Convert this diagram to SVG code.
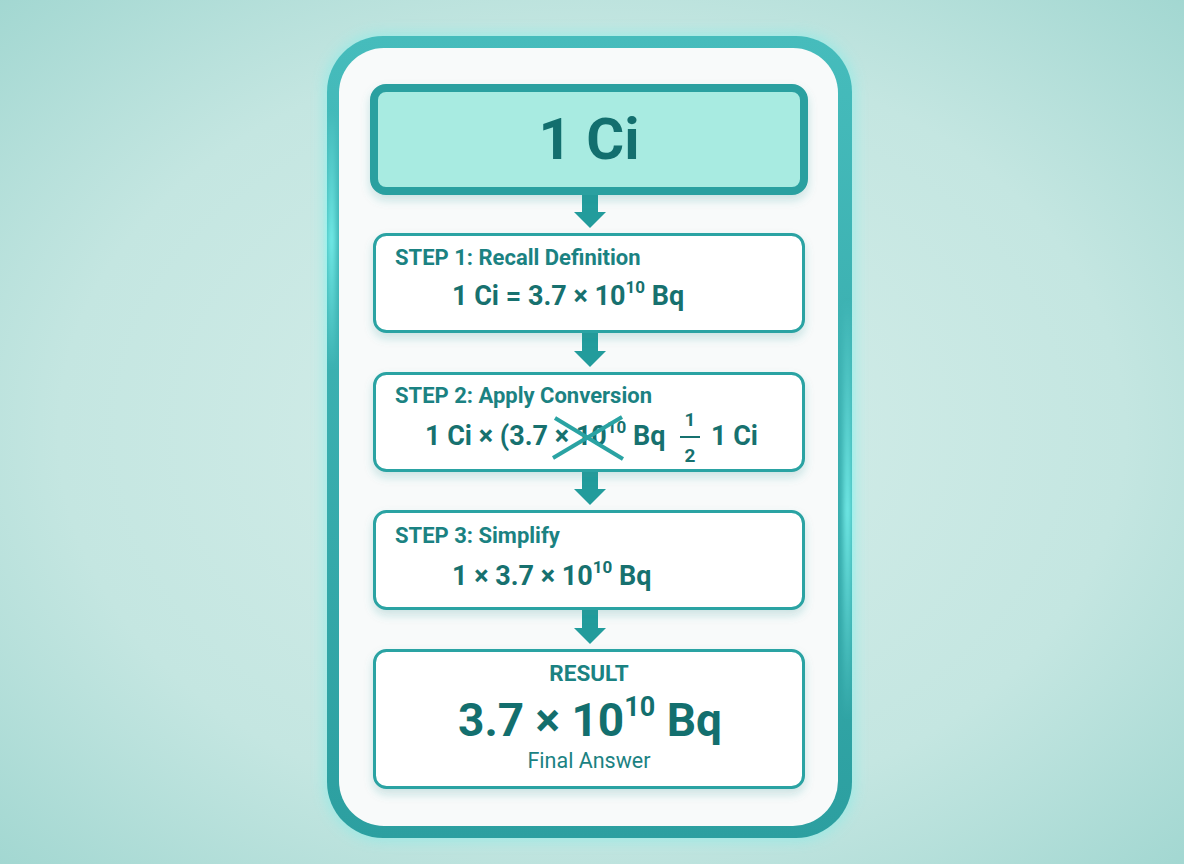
<svg xmlns="http://www.w3.org/2000/svg" width="1184" height="864" viewBox="0 0 1184 864">
<defs>
<radialGradient id="bg" cx="0.5" cy="0.5" r="0.75">
<stop offset="0" stop-color="#d6eeea"/>
<stop offset="0.6" stop-color="#c4e6e1"/>
<stop offset="1" stop-color="#9dd5cf"/>
</radialGradient>
<linearGradient id="frameG" x1="0" y1="0" x2="0" y2="1">
<stop offset="0" stop-color="#46bcbc"/>
<stop offset="1" stop-color="#2c9fa0"/>
</linearGradient>
<linearGradient id="glowL" x1="0" y1="0" x2="0" y2="1">
<stop offset="0" stop-color="#7ff8f4" stop-opacity="0"/>
<stop offset="0.5" stop-color="#7ff8f4" stop-opacity="1"/>
<stop offset="1" stop-color="#7ff8f4" stop-opacity="0"/>
</linearGradient>
<filter id="glow" x="-20%" y="-10%" width="140%" height="120%">
<feGaussianBlur stdDeviation="8"/>
</filter>
<filter id="blur3" x="-200%" y="-20%" width="500%" height="140%">
<feGaussianBlur stdDeviation="3"/>
</filter>
<filter id="sh" x="-10%" y="-20%" width="120%" height="150%">
<feDropShadow dx="0" dy="5" stdDeviation="5" flood-color="#2a8f8c" flood-opacity="0.22"/>
</filter>
<style>
.box{fill:#ffffff;stroke:#2aa3a3;stroke-width:3}
.title{font-family:Roboto,"Liberation Sans",sans-serif;font-weight:700;font-size:22px;fill:#1b8282}
.f{font-family:Roboto,"Liberation Sans",sans-serif;font-weight:700;font-size:27px;fill:#17716f}
.sup{font-size:17px}
.shaft{fill:#229c9c}
.head{fill:#229c9c}
</style>
</defs>
<rect width="1184" height="864" fill="url(#bg)"/>
<g id="frame">
<rect x="333" y="42" width="513" height="790" rx="50" fill="none" stroke="#6ef2ee" stroke-width="10" filter="url(#glow)" opacity="0.8"/>
<rect x="327" y="36" width="525" height="802" rx="56" fill="url(#frameG)"/>
<rect x="328" y="110" width="7" height="260" fill="url(#glowL)" filter="url(#blur3)"/>
<rect x="844" y="300" width="7" height="420" fill="url(#glowL)" filter="url(#blur3)"/>
<rect x="339" y="48" width="499" height="778" rx="45" fill="#f8fafa"/>
</g>
<g id="connectors">
<rect class="shaft" x="582" y="195" width="16" height="18"/>
<path class="head" d="M574,212 L606,212 L590,228 Z"/>
<rect class="shaft" x="582" y="333" width="16" height="19"/>
<path class="head" d="M574,351 L606,351 L590,367 Z"/>
<rect class="shaft" x="582" y="471" width="16" height="19"/>
<path class="head" d="M574,489 L606,489 L590,505 Z"/>
<rect class="shaft" x="582" y="609" width="16" height="20"/>
<path class="head" d="M574,628 L606,628 L590,644 Z"/>
</g>
<g id="start">
<rect x="374" y="88" width="430" height="103" rx="12" fill="#a8ebe1" stroke="#2aa0a0" stroke-width="8" filter="url(#sh)"/>
<text x="589" y="159" text-anchor="middle" font-family="Roboto,'Liberation Sans',sans-serif" font-weight="700" font-size="58" fill="#136f6e">1 Ci</text>
</g>
<g id="step1">
<rect class="box" x="374.5" y="234.5" width="429" height="97" rx="12" filter="url(#sh)"/>
<text class="title" x="395" y="265">STEP 1: Recall Definition</text>
<text class="f" x="452" y="305">1 Ci = 3.7 × 10<tspan class="sup" dy="-12">10</tspan><tspan dy="12"> Bq</tspan></text>
</g>
<g id="step2">
<rect class="box" x="374.5" y="373.5" width="429" height="97" rx="12" filter="url(#sh)"/>
<text class="title" x="395" y="403">STEP 2: Apply Conversion</text>
<text class="f" x="425" y="445">1 Ci × (3.7 × 10<tspan class="sup" dy="-12">10</tspan><tspan dy="12"> Bq</tspan></text>
<line x1="555" y1="418" x2="623" y2="459" stroke="#2aa3a3" stroke-width="4"/>
<line x1="553" y1="458" x2="622" y2="417" stroke="#2aa3a3" stroke-width="4"/>
<text x="690" y="426" text-anchor="middle" font-family="Roboto,'Liberation Sans',sans-serif" font-weight="700" font-size="19" fill="#17716f">1</text>
<line x1="680" y1="437" x2="700" y2="437" stroke="#17716f" stroke-width="2"/>
<text x="690" y="462" text-anchor="middle" font-family="Roboto,'Liberation Sans',sans-serif" font-weight="700" font-size="19" fill="#17716f">2</text>
<text class="f" x="711" y="445">1 Ci</text>
</g>
<g id="step3">
<rect class="box" x="374.5" y="511.5" width="429" height="97" rx="12" filter="url(#sh)"/>
<text class="title" x="395" y="543">STEP 3: Simplify</text>
<text class="f" x="452" y="585">1 × 3.7 × 10<tspan class="sup" dy="-12">10</tspan><tspan dy="12"> Bq</tspan></text>
</g>
<g id="result">
<rect class="box" x="374.5" y="650.5" width="429" height="137" rx="12" filter="url(#sh)"/>
<text x="589" y="681" text-anchor="middle" font-family="Roboto,'Liberation Sans',sans-serif" font-weight="700" font-size="22.5" fill="#1b8282">RESULT</text>
<text x="590" y="736" text-anchor="middle" font-family="Roboto,'Liberation Sans',sans-serif" font-weight="700" font-size="46" fill="#136f6e">3.7 × 10<tspan font-size="27" dy="-20">10</tspan><tspan dy="20"> Bq</tspan></text>
<text x="589" y="768" text-anchor="middle" font-family="Roboto,'Liberation Sans',sans-serif" font-size="21.5" fill="#1b8282">Final Answer</text>
</g>
</svg>
